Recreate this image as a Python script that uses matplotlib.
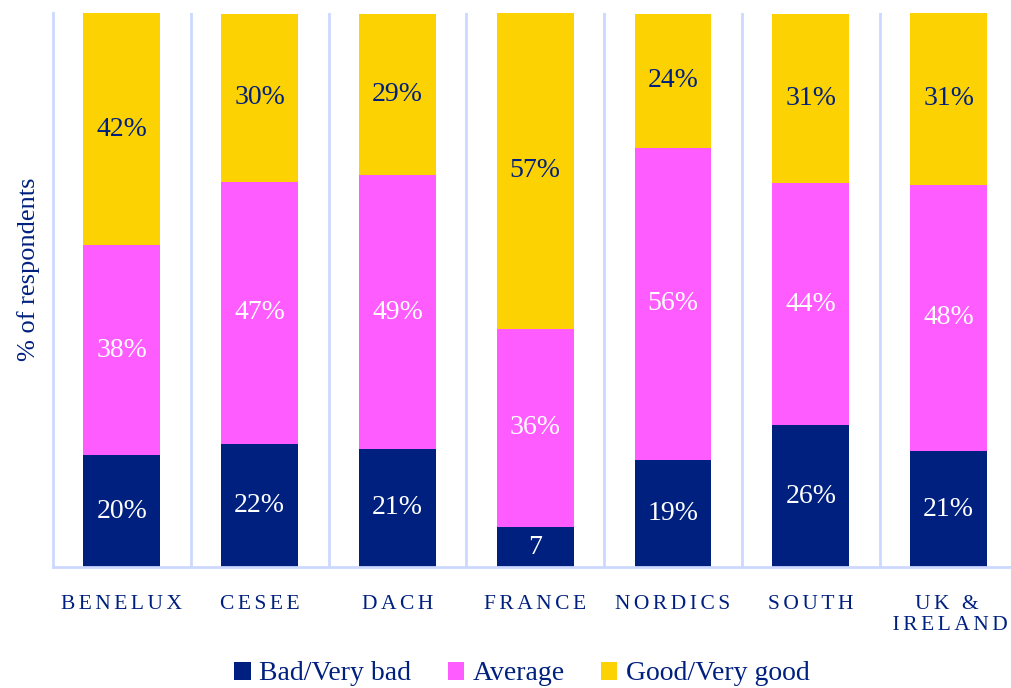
import numpy as np
import matplotlib.pyplot as plt

# data (% of respondents)
regions = ["BENELUX", "CESEE", "DACH", "FRANCE", "NORDICS", "SOUTH", "UK &\nIRELAND"]
bad = [20.2, 22.2, 21.3, 7.2, 19.4, 25.6, 20.9]
average = [37.9, 47.3, 49.4, 35.8, 56.3, 43.7, 48.1]
good = [41.9, 30.4, 29.2, 57.0, 24.2, 30.6, 31.0]
series_names = ["Bad/Very bad", "Average", "Good/Very good"]

navy = "#00207F"
pink = "#FF5CFF"
yellow = "#FDD203"
grid_col = "#CCD8FF"

plt.rcParams['font.family'] = ['Liberation Serif', 'DejaVu Serif']

fig = plt.figure(figsize=(10.12, 6.88), dpi=100)
ax = fig.add_axes([53 / 1012, 121 / 688, 959 / 1012, 554 / 688])

x = np.arange(len(regions))
w = 0.558
ax.bar(x, bad, w, color=navy, label=series_names[0])
ax.bar(x, average, w, bottom=bad, color=pink, label=series_names[1])
bottom2 = np.array(bad) + np.array(average)
ax.bar(x, good, w, bottom=bottom2, color=yellow, label=series_names[2])

# segment labels
for i in x:
    v = bad[i]
    txt = f"{v:.0f}%" if v >= 10 else f"{v:.0f}"
    ax.text(i, v / 2, txt, ha='center', va='center', color='white', fontsize=20)
    ax.text(i, bad[i] + average[i] / 2, f"{average[i]:.0f}%", ha='center', va='center',
            color='white', fontsize=20)
    ax.text(i, bottom2[i] + good[i] / 2, f"{good[i]:.0f}%", ha='center', va='center',
            color=navy, fontsize=20)

ax.set_xlim(-0.5, 6.46)
ax.set_ylim(0, 100)
ax.set_yticks([])
ax.set_xticks(x)
# letter spacing like the original
spaced = ["\u200a\u200a".join(r) for r in regions]
ax.set_xticklabels(spaced, color=navy, fontsize=15.5, linespacing=1.15)
ax.tick_params(axis='x', length=0, pad=20)

# category separators
ax.set_xticks(x[:-1] + 0.5, minor=True)
ax.tick_params(axis='x', which='minor', length=0)
ax.grid(True, which='minor', axis='x', color=grid_col, linewidth=2)
ax.set_axisbelow(True)

for s in ['top', 'right']:
    ax.spines[s].set_visible(False)
ax.spines['left'].set_color(grid_col)
ax.spines['left'].set_linewidth(2)
ax.spines['bottom'].set_color(grid_col)
ax.spines['bottom'].set_linewidth(2)

ax.set_ylabel("% of respondents", color=navy, fontsize=19)
ax.yaxis.set_label_coords(-0.014, 0.538)

leg = fig.legend(loc='center', bbox_to_anchor=(522 / 1012, 1 - 674 / 688), ncol=3,
                 frameon=False, fontsize=20, handlelength=0.6, handleheight=0.6,
                 handletextpad=0.3, columnspacing=1.3)
for t in leg.get_texts():
    t.set_color(navy)

plt.savefig("out.png", dpi=100)
